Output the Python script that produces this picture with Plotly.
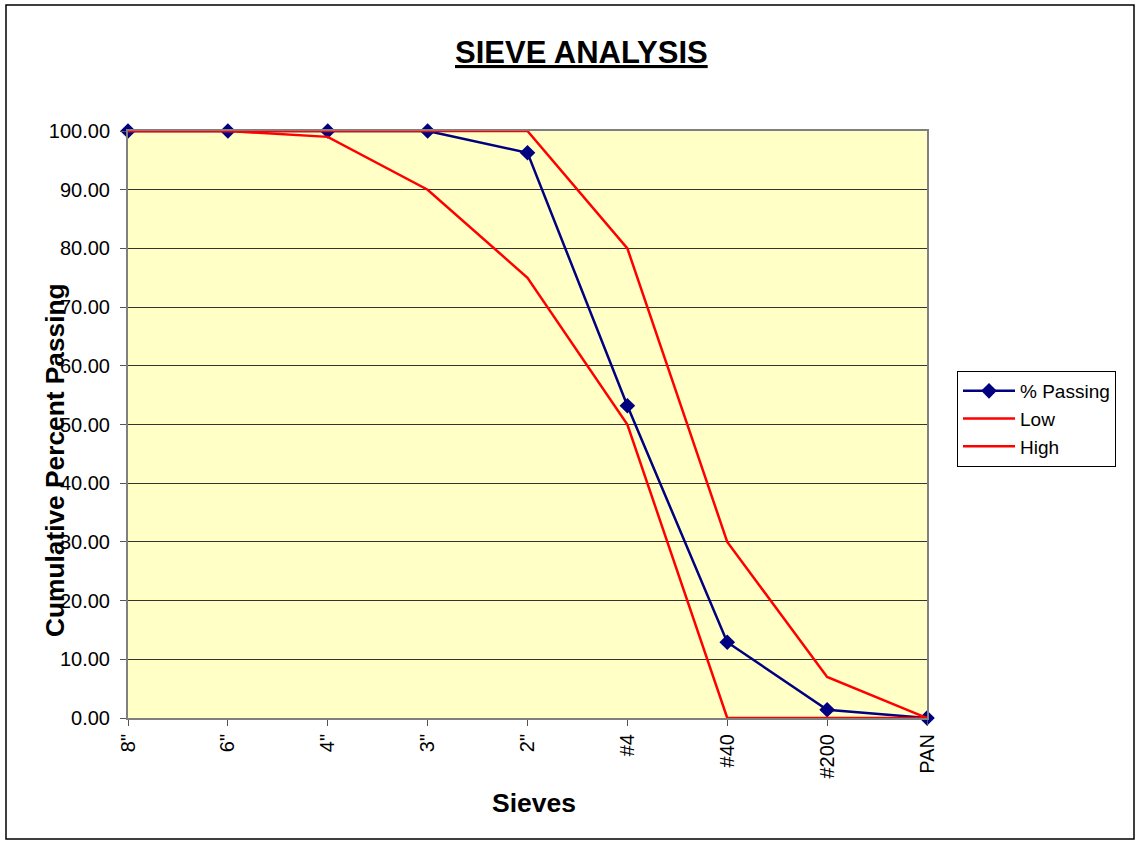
import plotly.graph_objects as go

sieves = ['8"', '6"', '4"', '3"', '2"', '#4', '#40', '#200', 'PAN']
passing = [100.0, 100.0, 100.0, 100.0, 96.3, 53.2, 12.9, 1.4, 0.0]
low = [100.0, 100.0, 99.0, 90.0, 75.0, 50.0, 0.0, 0.0, 0.0]
high = [100.0, 100.0, 100.0, 100.0, 100.0, 80.0, 30.0, 7.0, 0.0]

FONT = "Liberation Sans, Arial, sans-serif"
W, H = 1136, 842
L, R, T, B = 128, 927, 131, 718


def px(x):
    return (x - L) / (R - L)


def py(y):
    return (B - y) / (B - T)


fig = go.Figure()
fig.add_trace(go.Scatter(
    x=sieves, y=passing, name="% Passing", mode="lines+markers",
    line=dict(color="#000080", width=2.5),
    marker=dict(symbol="diamond", size=12, color="#000080"),
    cliponaxis=False,
))
fig.add_trace(go.Scatter(
    x=sieves, y=low, name="Low", mode="lines",
    line=dict(color="#FF0000", width=2.5), cliponaxis=False,
))
fig.add_trace(go.Scatter(
    x=sieves, y=high, name="High", mode="lines",
    line=dict(color="#FF0000", width=2.5), cliponaxis=False,
))

fig.update_layout(
    width=W, height=H,
    margin=dict(l=L, r=W - R, t=T, b=H - B, pad=0),
    paper_bgcolor="white",
    plot_bgcolor="#FFFFC6",
    font=dict(family=FONT, color="black", size=20),
    showlegend=True,
    legend=dict(
        x=px(957), y=py(371), xanchor="left", yanchor="top",
        bordercolor="black", borderwidth=1, bgcolor="white",
        font=dict(family=FONT, size=19, color="black"),
        itemwidth=52, tracegroupgap=0, traceorder="normal",
    ),
    xaxis=dict(
        type="category", range=[0, len(sieves) - 1],
        tickangle=-90, ticks="outside", ticklen=6, tickcolor="#555",
        showline=True, linecolor="#808080", linewidth=2, mirror=True,
        showgrid=False, zeroline=False,
        tickfont=dict(family=FONT, size=20),
    ),
    yaxis=dict(
        range=[0, 100], dtick=10, tickformat=".2f",
        ticks="outside", ticklen=6, tickcolor="#555",
        showline=True, linecolor="#808080", linewidth=2, mirror=True,
        showgrid=True, gridcolor="#333333", gridwidth=1,
        zeroline=False, ticklabelstandoff=6,
        tickfont=dict(family=FONT, size=20),
    ),
    annotations=[
        dict(text="<b><u>SIEVE ANALYSIS</u></b>", xref="paper", yref="paper",
             x=px(581), y=py(53), showarrow=False,
             xanchor="center", yanchor="middle",
             font=dict(family=FONT, size=31, color="black")),
        dict(text="<b>Sieves</b>", xref="paper", yref="paper",
             x=px(534), y=py(803), showarrow=False,
             xanchor="center", yanchor="middle",
             font=dict(family=FONT, size=26.5, color="black")),
        dict(text="<b>Cumulative Percent Passing</b>", xref="paper", yref="paper",
             x=px(55), y=py(460), showarrow=False, textangle=-90,
             xanchor="center", yanchor="middle",
             font=dict(family=FONT, size=26.3, color="black")),
    ],
    shapes=[
        dict(type="rect", xref="paper", yref="paper",
             x0=px(6), x1=px(1134), y0=py(839), y1=py(5),
             line=dict(color="black", width=1.5), fillcolor="rgba(0,0,0,0)",
             layer="below"),
    ],
)

fig.write_html("out.html", config={"displayModeBar": False},
               post_script="document.body.style.margin='0';")
